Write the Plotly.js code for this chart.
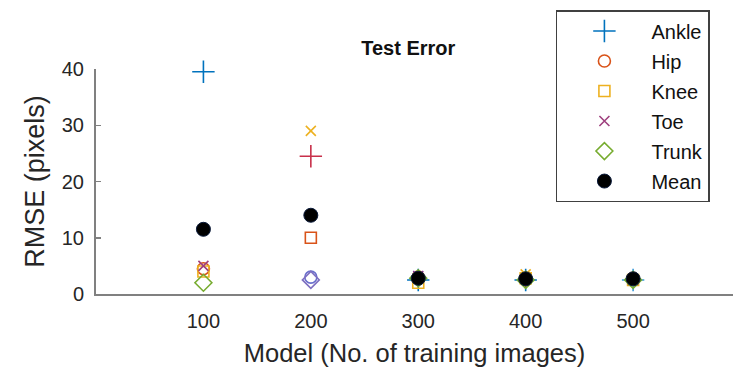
<!DOCTYPE html>
<html>
<head>
<meta charset="utf-8">
<script src="https://cdn.plot.ly/plotly-3.0.1.min.js"></script>
<style>html,body{margin:0;padding:0;background:#fff;}#chart{width:733px;height:378px;}</style>
</head>
<body>
<div id="chart"></div>
<script>
const models = [100, 200, 300, 400, 500];
const ankle = [39.5, 24.5, 2.5, 2.5, 2.5];
const hip   = [4.5, 3.0, 3.0, 2.5, 2.8];
const knee  = [4.0, 10.0, 2.0, 2.8, 2.5];
const toe   = [5.0, 29.0, 3.2, 3.5, 2.5];
const trunk = [2.0, 2.5, 2.8, 2.5, 2.5];
const meanE = [11.5, 14.0, 2.8, 2.7, 2.7];
const seriesNames = ['Ankle', 'Hip', 'Knee', 'Toe', 'Trunk', 'Mean'];
const xTicks = [100, 200, 300, 400, 500];
const yTicks = [0, 10, 20, 30, 40];

const font = 'Liberation Sans, Arial, sans-serif';
function pts(name, y, symbol, colors, size) {
  return {
    type: 'scatter', mode: 'markers', name: name, x: models, y: y,
    cliponaxis: false, legendgroup: name,
    marker: {symbol: symbol, size: size, color: colors,
             line: {color: colors, width: 1.6}}
  };
}
const data = [
  pts(seriesNames[0], ankle, 'cross-thin-open', ['#0072BD', '#C8304A', '#0072BD', '#0072BD', '#3A9AD9'], 16),
  pts(seriesNames[1], hip, 'circle-open', ['#D95319', '#6A6FCC', '#D95319', '#D95319', '#D95319'], 12),
  pts(seriesNames[2], knee, 'square-open', ['#EDB120', '#D95319', '#EDB120', '#EDB120', '#EDB120'], 11),
  pts(seriesNames[3], toe, 'x-thin-open', ['#9E3F7E', '#EDB120', '#7E2F8E', '#EDB120', '#7E2F8E'], 10),
  pts(seriesNames[4], trunk, 'diamond-open', ['#77AC30', '#7E6FC0', '#77AC30', '#77AC30', '#77AC30'], 13),
  {type: 'scatter', mode: 'markers', name: seriesNames[5], x: models, y: meanE, cliponaxis: false,
   legendgroup: seriesNames[5],
   marker: {symbol: 'circle', size: 14, color: '#000000', line: {color: '#0a1a3a', width: 1}}}
];
const layout = {
  width: 733, height: 378,
  margin: {l: 96, r: 0, t: 69, b: 84},
  paper_bgcolor: '#ffffff', plot_bgcolor: '#ffffff',
  font: {family: font, color: '#262626', size: 20},
  title: {text: '<b>Test Error</b>', x: 0.557, xanchor: 'center', y: 0.872, yanchor: 'middle',
          font: {family: font, size: 20, color: '#111'}},
  xaxis: {range: [0, 593], tickvals: xTicks, ticktext: xTicks.map(String),
          showgrid: false, zeroline: false, showline: true, linecolor: '#808080', linewidth: 2,
          ticks: '', ticklabelstandoff: 8, tickfont: {size: 20, color: '#262626'},
          title: {text: 'Model (No. of training images)', font: {size: 25.5, color: '#262626'}, standoff: 13}},
  yaxis: {range: [0, 40], tickvals: yTicks, showgrid: false, zeroline: false,
          showline: true, linecolor: '#808080', linewidth: 2,
          ticks: 'inside', ticklen: 5, tickcolor: '#808080', tickwidth: 1.5,
          ticklabelstandoff: 6, tickfont: {size: 20, color: '#262626'},
          title: {text: 'RMSE (pixels)', font: {size: 27, color: '#262626'}, standoff: 9}},
  showlegend: true,
  legend: {x: 0.722, y: 1.262, xanchor: 'left', yanchor: 'top', maxheight: 1,
           bgcolor: '#ffffff', bordercolor: '#404040', borderwidth: 1.5,
           font: {size: 20, color: '#111'}, traceorder: 'grouped', tracegroupgap: 1,
           itemwidth: 84}
};
Plotly.newPlot('chart', data, layout, {displayModeBar: false, staticPlot: true});
</script>
</body>
</html>
